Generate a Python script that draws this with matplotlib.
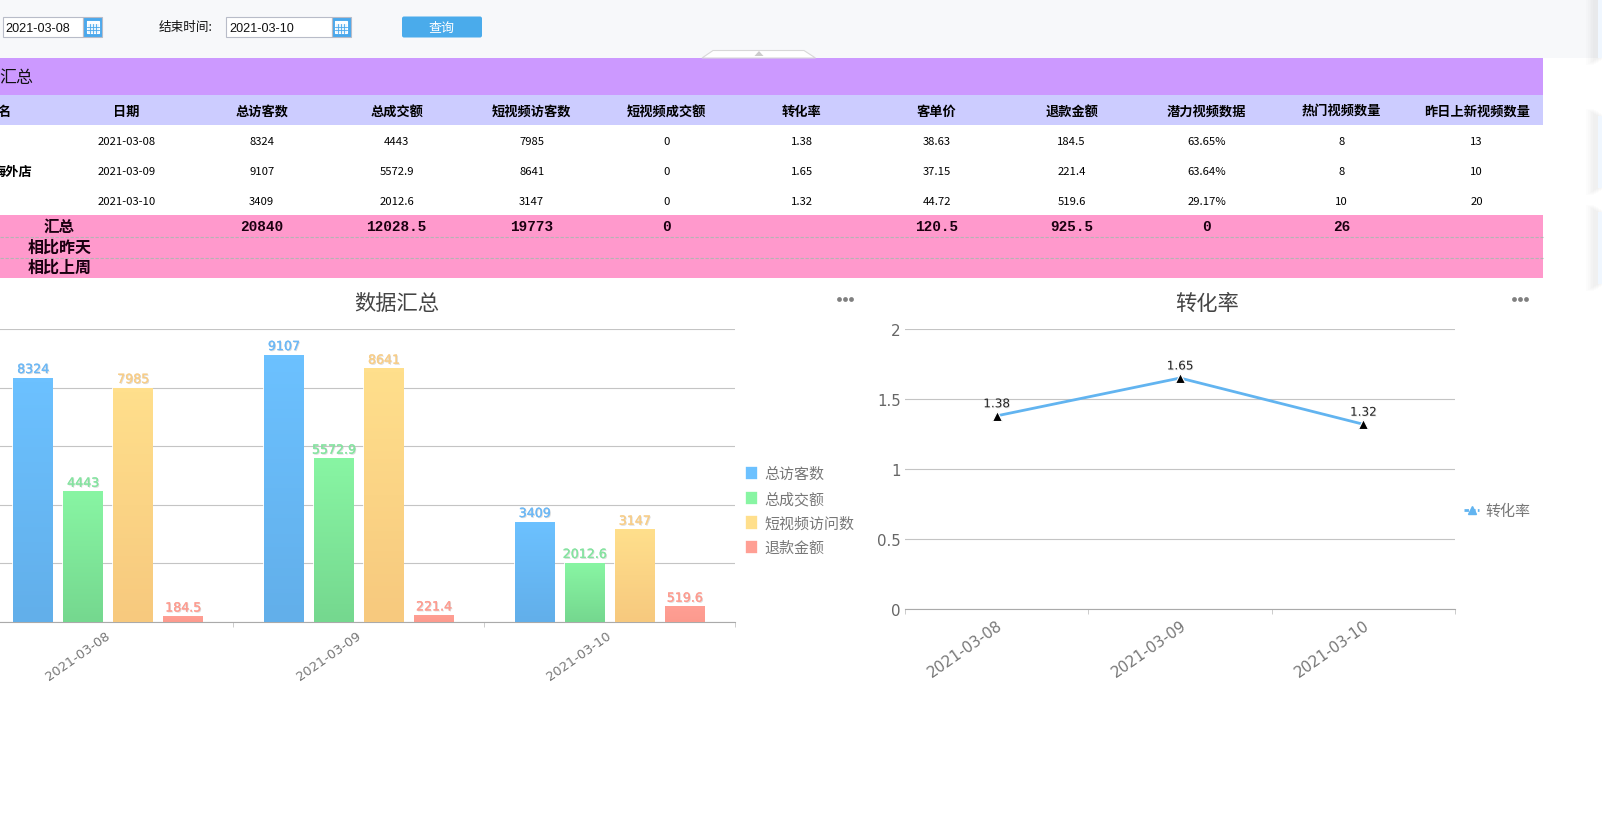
"""
数据汇总 页面截图复刻
"""
import numpy as np
import matplotlib
matplotlib.use('Agg')
import matplotlib.pyplot as plt
import matplotlib.patheffects as pe
import matplotlib.transforms as mtransforms
from matplotlib.lines import Line2D
from matplotlib.patches import Rectangle, FancyBboxPatch, Polygon
from matplotlib.colors import LinearSegmentedColormap

plt.rcParams['font.family'] = ['Noto Sans CJK SC', 'DejaVu Sans']
plt.rcParams['axes.unicode_minus'] = False

W, H = 1602, 820

# 数据
dates = ['2021-03-08', '2021-03-09', '2021-03-10']
visitors = [8324, 9107, 3409]
deals = [4443, 5572.9, 2012.6]
video_visitors = [7985, 8641, 3147]
video_deals = [0, 0, 0]
conv_rate = [1.38, 1.65, 1.32]
unit_price = [38.63, 37.15, 44.72]
refund = [184.5, 221.4, 519.6]
potential = ['63.65%', '63.64%', '29.17%']
hot_count = [8, 8, 10]
new_count = [13, 10, 20]

table_headers = ['日期', '总访客数', '总成交额', '短视频访客数', '短视频成交额', '转化率',
                 '客单价', '退款金额', '潜力视频数据', '热门视频数量', '昨日上新视频数量']
table_totals = ['', '20840', '12028.5', '19773', '0', '', '120.5', '925.5', '0', '26', '']

bar_labels = ['总访客数', '总成交额', '短视频访问数', '退款金额']
bar_ticks = [0, 2000, 4000, 6000, 8000, 10000]
line_ticks = [0, 0.5, 1, 1.5, 2]
line_tick_labels = ['0', '0.5', '1', '1.5', '2']

# 渐变色 (上, 下)
bar_colors = [('#6cc1ff', '#62afea'), ('#88f5a3', '#75d88f'),
              ('#ffdf8c', '#f7c97e'), ('#ff9f94', '#fc9a8e')]
label_colors = ['#6db8f5', '#85e3a0', '#f7cd88', '#fd9c90']
LATIN = ['DejaVu Sans', 'Noto Sans CJK SC']
MONO = ['Liberation Mono', 'Noto Sans CJK SC']


def pt(px):
    return px * 0.72


def px_axes(fig, left, top, right, bottom):
    return fig.add_axes([left / W, 1 - bottom / H, (right - left) / W, (bottom - top) / H])


fig = plt.figure(figsize=(W / 100, H / 100), dpi=100, facecolor='white')

# 背景层, 像素坐标
bg = fig.add_axes([0, 0, 1, 1], zorder=0)
bg.set_xlim(0, W)
bg.set_ylim(H, 0)
bg.axis('off')

bg.add_patch(Rectangle((0, 0), 1598, 59, fc='#f7f8fa', ec='none'))
bg.add_patch(Rectangle((0, 59), 1543, 37, fc='#cc99ff', ec='none'))
bg.add_patch(Rectangle((0, 96), 1543, 30, fc='#ccccff', ec='none'))
bg.add_patch(Rectangle((0, 216), 1543, 63, fc='#ff99cc', ec='none'))
for y in [237.5, 258.5]:
    bg.plot([0, 1543], [y, y], color='#b4b4b4', lw=0.8, ls=(0, (3, 1.5)))

# 右侧浮动按钮和阴影
for top, bottom in [(-5, 59), (117, 189), (213, 285)]:
    for k in range(8):
        bg.add_patch(Rectangle((1597.5 - k * 1.6, top - k), 8, bottom - top + 2 * k,
                               fc='#000000', alpha=0.012, ec='none'))
    bg.add_patch(Rectangle((1597.5, top), 6, bottom - top, fc='#f0f7ff', ec='none'))

# 折叠按钮
bg.add_patch(Polygon([(702, 59), (713, 51.5), (804, 51.5), (815.5, 59)], closed=True,
                     fc='white', ec='#d8d8d8', lw=0.8))
bg.add_patch(Polygon([(754.5, 57), (759, 52), (763.5, 57)], closed=True, fc='#cccccc', ec='none'))


def date_box(x0, x1, text):
    bg.add_patch(Rectangle((x0, 17.5), x1 - x0, 20, fc='white', ec='#b8bcc8', lw=0.8))
    bg.add_patch(Rectangle((x1, 17.5), 19, 20, fc='#4aa8ec', ec='#b8bcc8', lw=0.8))
    # 日历图标
    ix = x1 + 3.5
    bg.add_patch(Rectangle((ix, 22), 12, 12, fc='#e8f4fd', ec='white', lw=0.8))
    bg.add_patch(Rectangle((ix, 22), 12, 3, fc='white', ec='none'))
    for d in [3, 6, 9]:
        bg.plot([ix + d, ix + d], [25, 34], color='#4aa8ec', lw=0.6)
    for d in [28, 31]:
        bg.plot([ix, ix + 12], [d, d], color='#4aa8ec', lw=0.6)
    bg.text(x0 + 3, 28.5, text, fontsize=pt(12.6), family=['Liberation Sans'],
            ha='left', va='center', color='#111111')


date_box(2.5, 83, dates[0])
date_box(226, 331.5, dates[2])
bg.text(159, 27.5, '结束时间:', fontsize=pt(12.6), ha='left', va='center', color='#111111')
bg.add_patch(FancyBboxPatch((404, 19.5), 76, 17, boxstyle='round,pad=2,rounding_size=2',
                            fc='#4aabeb', ec='none'))
bg.text(442, 28.5, '查询', fontsize=pt(13), ha='center', va='center', color='white')

# 表格
col_x = [126.7 + 135 * i for i in range(11)]
row_y = [142, 172, 202]
table_cols = [dates, visitors, deals, video_visitors, video_deals, conv_rate, unit_price,
              refund, potential, hot_count, new_count]

bg.text(33, 78, '汇总', fontsize=pt(17), ha='right', va='center', color='#111111')
bg.text(10.5, 112, '名', fontsize=pt(13.2), fontweight='bold', ha='right', va='center', color='black')
bg.text(32, 171.5, '海外店', fontsize=pt(13.2), fontweight='bold', ha='right', va='center', color='black')

for x, head, col, total in zip(col_x, table_headers, table_cols, table_totals):
    bg.text(x, 112, head, fontsize=pt(13.2), fontweight='bold', ha='center', va='center', color='black')
    for y, val in zip(row_y, col):
        bg.text(x, y, str(val), fontsize=pt(11.3), ha='center', va='center', color='black')
    if total:
        bg.text(x, 227, total, fontsize=pt(14.4), family=MONO, fontweight='bold',
                ha='center', va='center', color='#1a0010')

bg.text(59, 226.5, '汇总', fontsize=pt(15.5), fontweight='bold', ha='center', va='center', color='#1a0010')
bg.text(59.5, 247.5, '相比昨天', fontsize=pt(16), fontweight='bold', ha='center', va='center', color='#1a0010')
bg.text(59.5, 268, '相比上周', fontsize=pt(16), fontweight='bold', ha='center', va='center', color='#1a0010')

# 标题和菜单点
bg.text(396.7, 304, '数据汇总', fontsize=pt(21.3), ha='center', va='center', color='#444444')
bg.text(1206.7, 303.5, '转化率', fontsize=pt(21.3), ha='center', va='center', color='#444444')
for cx in [845, 1520]:
    bg.scatter([cx - 6, cx, cx + 6], [300, 300, 300], s=12, color='#808080', linewidths=0)


def style_axes(ax):
    ax.patch.set_alpha(0)
    for side in ['top', 'left', 'right']:
        ax.spines[side].set_visible(False)
    ax.spines['bottom'].set_color('#aaaaaa')
    ax.spines['bottom'].set_linewidth(0.8)
    ax.grid(axis='y', color='#c4c4c4', lw=0.8)
    ax.set_axisbelow(True)
    ax.tick_params(axis='y', length=0)
    ax.tick_params(axis='x', which='minor', length=3.5, color='#cccccc', width=0.7)
    ax.set_xticks([-0.5, 0.5, 1.5, 2.5], minor=True)


# 柱状图
ax1 = px_axes(fig, -17.4, 330, 735, 623)
ax1.set_xlim(-0.5, 2.5)
ax1.set_ylim(0, 10000)
style_axes(ax1)
ax1.set_yticks(bar_ticks)
ax1.set_yticklabels([])

step = 50 / 250.7
bar_w = 39 / 250.7
x_pos = np.arange(len(dates))
bar_series = [visitors, deals, video_visitors, refund]

for i, (vals, name, (c_top, c_bot), lc) in enumerate(zip(bar_series, bar_labels, bar_colors, label_colors)):
    bars = ax1.bar(x_pos + (i - 1.5) * step - 0.002, vals, bar_w, color=c_top, edgecolor='white',
                   linewidth=1.2, label=name, zorder=2)
    cmap = LinearSegmentedColormap.from_list('g%d' % i, [c_top, c_bot])
    for rect, v in zip(bars, vals):
        ax1.imshow(np.linspace(0, 1, 64).reshape(-1, 1), cmap=cmap, aspect='auto', zorder=3,
                   extent=[rect.get_x(), rect.get_x() + rect.get_width(), 0, rect.get_height()])
        ax1.annotate(str(v), (rect.get_x() + rect.get_width() / 2, v), xytext=(0.5, 1.5),
                     textcoords='offset points', ha='center', va='bottom', fontsize=pt(12.6),
                     family=LATIN, color=lc, zorder=4,
                     path_effects=[pe.SimplePatchShadow(offset=(0.7, -0.7), shadow_rgbFace='#bbbbbb', alpha=0.5),
                                   pe.Stroke(linewidth=0.2, foreground=lc), pe.Normal()])
ax1.set_xlim(-0.5, 2.5)
ax1.set_ylim(0, 10000)
ax1.set_xticks(x_pos)
ax1.set_xticklabels(dates, rotation=35, ha='right', rotation_mode='anchor',
                    fontsize=pt(13), family=LATIN, color='#777777')
ax1.tick_params(axis='x', which='major', length=0, pad=5)
# 标签略微左移
shift = mtransforms.ScaledTranslation(-3 / 100, 0, fig.dpi_scale_trans)
for lab in ax1.get_xticklabels():
    lab.set_transform(lab.get_transform() + shift)

leg1 = ax1.legend(loc='center left', bbox_to_anchor=(745 / W, 1 - 511.5 / H), bbox_transform=fig.transFigure,
                  frameon=False, fontsize=pt(15), labelcolor='#777777', handlelength=0.87, handleheight=1.1,
                  handletextpad=0.42, labelspacing=0.62, borderpad=0, borderaxespad=0)

# 折线图
ax2 = px_axes(fig, 905, 330, 1455, 610.2)
ax2.set_xlim(-0.5, 2.5)
ax2.set_ylim(0, 2)
style_axes(ax2)
ax2.set_yticks(line_ticks)
ax2.set_yticklabels(line_tick_labels, fontsize=pt(15), family=LATIN, color='#666666')
ax2.tick_params(axis='y', pad=3)
ax2.plot(x_pos, conv_rate, color='#62b4f0', lw=2, zorder=3)
ax2.plot(x_pos, conv_rate, ls='none', marker='^', ms=6.5, mfc='black', mec='white', mew=0.8, zorder=4)
for x, v in zip(x_pos, conv_rate):
    ax2.annotate(str(v), (x, v), xytext=(0, 4), textcoords='offset points', ha='center', va='bottom',
                 fontsize=pt(12), family=LATIN, color='#222222', zorder=5,
                 path_effects=[pe.SimplePatchShadow(offset=(0.6, -0.6), shadow_rgbFace='#bbbbbb', alpha=0.4),
                               pe.Normal()])
ax2.set_xticks(x_pos)
ax2.set_xticklabels(dates, rotation=35, ha='right', rotation_mode='anchor',
                    fontsize=pt(15), family=LATIN, color='#777777')
ax2.tick_params(axis='x', which='major', length=0, pad=6)

rate_handle = Line2D([], [], color='#62b4f0', lw=2, marker='^', ms=6, ls=(0, (1.6, 0.8)), label='转化率')
ax2.legend(handles=[rate_handle], loc='center left', bbox_to_anchor=(1464 / W, 1 - 512 / H),
           bbox_transform=fig.transFigure, frameon=False, fontsize=pt(15), labelcolor='#777777',
           handlelength=1.0, handletextpad=0.4, borderpad=0, borderaxespad=0)

fig.savefig('out.png', dpi=100, facecolor='white')
